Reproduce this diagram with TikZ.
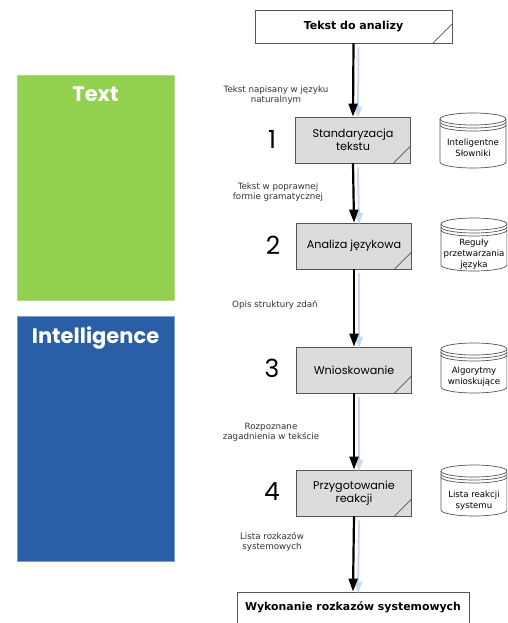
\documentclass[tikz,border=0pt]{standalone}
\usepackage{fontspec}
\setmainfont{DejaVu Sans}
\newfontfamily\gothic{Poppins}
\usetikzlibrary{arrows.meta}
\definecolor{txtgreen}{HTML}{92D050}
\definecolor{intblue}{HTML}{2A5EA6}
\definecolor{boxgray}{HTML}{DCDCDC}
\definecolor{edgegray}{HTML}{555555}
\definecolor{shadowblue}{HTML}{C6D9F1}
\tikzset{
  slashbox/.style={draw=edgegray, line width=0.8pt, inner sep=2pt, align=center,
    path picture={\draw[edgegray, line width=0.7pt]
      ([xshift=-#1]path picture bounding box.south east) --
      ([yshift=#1]path picture bounding box.south east);}},
  procbox/.style={slashbox=17pt, fill=boxgray, minimum width=115pt, minimum height=46pt,
    font=\gothic\fontsize{11.2}{13.5}\selectfont},
  endbox/.style={slashbox=19pt, fill=white, font=\bfseries\fontsize{11}{12}\selectfont},
  flowlabel/.style={align=center, font=\fontsize{8.7}{10.5}\selectfont, text=black!80},
  numlabel/.style={font=\gothic\fontsize{25}{28}\selectfont},
  cyltext/.style={align=center, font=\fontsize{8.6}{11}\selectfont},
  cylline/.style={draw=edgegray, line width=0.7pt, fill=white},
  flow/.style={line width=2.2pt, -{Triangle[length=13pt,width=9pt]}},
  flowshadow/.style={shadowblue, line width=2pt, -{Triangle[length=12pt,width=8pt]}},
  sidebar/.style={minimum width=157pt, text=white, font=\gothic\bfseries\fontsize{21}{24}\selectfont}
}
\newcommand\mycyl[3]{%
  \draw[cylline] (#1-33,#2+6) -- (#1-33,#3-6)
    arc[start angle=180,end angle=360,x radius=33pt,y radius=6pt]
    -- (#1+33,#2+6)
    arc[start angle=0,end angle=180,x radius=33pt,y radius=6pt] -- cycle;
  \draw[cylline, fill=none] (#1-33,#2+6) arc[start angle=180,end angle=360,x radius=33pt,y radius=6pt];
  \draw[cylline, fill=none] (#1-33,#2+9) arc[start angle=180,end angle=360,x radius=33pt,y radius=6pt];
  \draw[cylline, fill=none] (#1-33,#2+12) arc[start angle=180,end angle=360,x radius=33pt,y radius=6pt];
}
\begin{document}
\begin{tikzpicture}[x=1pt,y=-1pt]
\useasboundingbox (0,0) rectangle (507,623);
\clip (0,0) rectangle (507,623);
% side bars
\fill[txtgreen] (17,75) rectangle (174,300);
\draw[txtgreen!70!white, line width=0.6pt] (17,75) rectangle (174,300);
\node[sidebar, anchor=north] (ttext) at (95.5,83) {Text};
\fill[intblue] (17,316) rectangle (174,561);
\draw[intblue!60!white, line width=0.6pt] (17,316) rectangle (174,561);
\node[sidebar, anchor=north] (tintel) at (95.5,323) {Intelligence};
% boxes
\node[endbox, minimum width=197pt, minimum height=33pt] (top) at (353.5,26.5) {Tekst do analizy};
\node[procbox] (b1) at (353,140) {Standaryzacja\\tekstu};
\node[procbox] (b2) at (354,246) {Analiza językowa};
\node[procbox] (b3) at (354,370) {Wnioskowanie};
\node[procbox] (b4) at (354,493) {Przygotowanie\\reakcji};
\node[endbox, minimum width=232pt, minimum height=50pt, text depth=0pt] (bot) at (353,617) {};
\node[font=\bfseries\fontsize{10.9}{12}\selectfont] (bottxt) at (353,607) {Wykonanie rozkazów systemowych};
% numbers
\node[numlabel] (n1) at (272,139) {1};
\node[numlabel] (n2) at (273,245) {2};
\node[numlabel] (n3) at (272,368) {3};
\node[numlabel] (n4) at (272,492) {4};
% arrows: shadows first
\foreach \a/\b in {top/b1,b1/b2,b2/b3,b3/b4,b4/bot}{
  \draw[flowshadow] ([xshift=5pt,yshift=-4pt]\a.south) -- ([xshift=5pt,yshift=-2pt]\b.north);
}
\foreach \a/\b in {top/b1,b1/b2,b2/b3,b3/b4,b4/bot}{
  \draw[flow] (\a.south) -- (\b.north);
}
% flow labels
\node[flowlabel] (l1) at (276,95) {Tekst napisany w języku\\naturalnym};
\node[flowlabel] (l2) at (278,192) {Tekst w poprawnej\\formie gramatycznej};
\node[flowlabel] (l3) at (275,305) {Opis struktury zdań};
\node[flowlabel] (l4) at (271,432) {Rozpoznane\\zagadnienia w tekście};
\node[flowlabel] (l5) at (272,542) {Lista rozkazów\\systemowych};
% stores
\mycyl{473}{113}{168}
\node[cyltext] (c1) at (473,148) {Inteligentne\\Słowniki};
\mycyl{474}{218}{271}
\node[cyltext] (c2) at (474,254) {Reguły\\przetwarzania\\języka};
\mycyl{474}{343}{393}
\node[cyltext] (c3) at (474,377) {Algorytmy\\wnioskujące};
\mycyl{474}{465}{516}
\node[cyltext] (c4) at (474,501) {Lista reakcji\\systemu};
\end{tikzpicture}
\end{document}
